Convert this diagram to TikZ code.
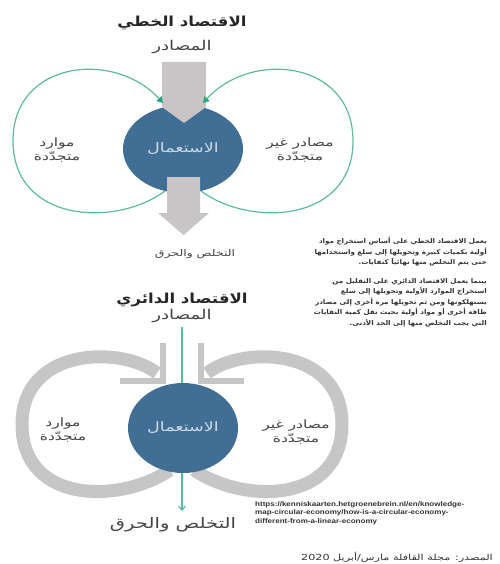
\documentclass[tikz,border=0pt]{standalone}
\usepackage{fontspec}
\setmainfont{DejaVu Sans}
\newfontfamily\arabicfont[Script=Arabic,FakeStretch=1.35]{DejaVu Sans}
\newfontfamily\arabictitle[Script=Arabic,FakeStretch=1.2]{DejaVu Sans Bold}
\newfontfamily\arabicnote[Script=Arabic,FakeStretch=1.1]{DejaVu Sans Bold}
\newfontfamily\urlfont[FakeStretch=1.2]{Liberation Sans Bold}
\TeXXeTstate=1
\usetikzlibrary{arrows.meta,shapes.geometric}

\definecolor{useblue}{RGB}{64,110,148}
\definecolor{flowgray}{RGB}{201,197,199}
\definecolor{loopgray}{RGB}{198,198,198}
\definecolor{loopgreen}{RGB}{92,186,160}
\definecolor{tipgreen}{RGB}{38,168,120}
\definecolor{labelgray}{RGB}{68,68,68}
\definecolor{inlabel}{RGB}{208,218,230}

\newcommand{\AR}[1]{\beginR #1\endR}
\newcommand{\fs}[1]{\fontsize{#1}{#1}\selectfont}

\tikzset{
  ar/.style={font=\arabicfont, text=labelgray, inner sep=0pt, align=center},
  lbl/.style={ar, font=\arabicfont\fontsize{11.5}{14}\selectfont},
  title/.style={ar, font=\arabictitle\fs{13.8}, text=black!85},
  usenode/.style={ellipse, fill=useblue, text=inlabel, inner sep=0pt,
    font=\arabicfont\fs{13}},
  greenloop/.style={draw=loopgreen, line width=1.2pt,
    -{Triangle[length=6pt,width=7pt,color=tipgreen]}},
  grayloop/.style={draw=loopgray, line width=13pt},
  graybarb/.style={draw=loopgray, line width=6pt, line join=miter},
  flow/.style={fill=flowgray},
  feed/.style={draw=loopgreen, line width=1.2pt, -{Straight Barb[length=4pt,width=7pt]}},
  para/.style={font=\arabicnote\fontsize{6.5}{10.6}\selectfont, text=black!80,
    align=right, inner sep=0pt},
}

\begin{document}
\begin{tikzpicture}[x=1pt,y=1pt]
\useasboundingbox (0,0) rectangle (499,-564);
\fill[white] (0,0) rectangle (499,-564);

% ---------- linear economy ----------
\node[title] (linTitle) at (182,-23) {\AR{الاقتصاد الخطي}};
\node[ar, font=\arabicfont\fs{13.5}] (srcA) at (182,-47) {\AR{المصادر}};

\node[usenode, minimum width=120pt, minimum height=88pt] (useA) at (183,-149) {\AR{الاستعمال}};

% raw material entering, waste leaving
\fill[flow] (162,-62) -- (206,-62) -- (206,-107) -- (184,-123) -- (162,-107) -- cycle;
\fill[flow] (167,-177) -- (200,-177) -- (200,-213) -- (209,-213) -- (183.5,-235)
  -- (158,-213) -- (167,-213) -- cycle;

\node[ar, font=\arabicfont\fs{9.2}] (dispA) at (195,-254) {\AR{التخلص والحرق}};

% resource loops
\coordinate (lInA) at (165,-191);
\coordinate (lOutA) at (163,-103);
\coordinate (rInA) at (201,-191);
\coordinate (rOutA) at (203,-103);
\draw[greenloop] (lInA) .. controls (115,-228) and (13,-222) .. (13,-141)
  .. controls (13,-60) and (115,-50) .. (lOutA);
\draw[greenloop] (rInA) .. controls (251,-228) and (353,-222) .. (353,-141)
  .. controls (353,-60) and (251,-50) .. (rOutA);

\node[lbl] (renA) at (57,-150) {\AR{موارد}\\\AR{متجدّدة}};
\node[lbl] (nrenA) at (300,-150) {\AR{مصادر غير}\\\AR{متجدّدة}};

% ---------- explanatory notes ----------
\node[para, anchor=north east] (noteA) at (487,-237) {%
  \AR{يعمل الاقتصاد الخطي على أساس استخراج مواد}\\
  \AR{أولية بكميات كبيرة وتحويلها إلى سلع واستخدامها}\\
  \AR{حتى يتم التخلص منها نهائياً كنفايات.}};
\node[para, anchor=north east] (noteB) at (487,-278) {%
  \AR{بينما يعمل الاقتصاد الدائري على التقليل من}\\
  \AR{استخراج الموارد الأولية وتحويلها إلى سلع}\\
  \AR{يستهلكونها ومن ثم تحويلها مرة أخرى إلى مصادر}\\
  \AR{طاقة أخرى أو مواد أولية بحيث تقل كمية النفايات}\\
  \AR{التي يجب التخلص منها إلى الحد الأدنى.}};

% ---------- circular economy ----------
\node[title] (circTitle) at (182,-300) {\AR{الاقتصاد الدائري}};
\node[ar, font=\arabicfont\fs{13.5}] (srcB) at (182,-316) {\AR{المصادر}};
\node[ar, font=\arabicfont\fs{14.5}] (dispB) at (173,-525) {\AR{التخلص والحرق}};

\coordinate (feedTop) at (182,-327);
\coordinate (feedEnd) at (182,-511);
\draw[feed] (feedTop) -- (feedEnd);

% recycling loops
\draw[grayloop] (170,-470) .. controls (120,-504) and (22,-504) .. (22,-424)
  .. controls (22,-348) and (120,-345) .. (157,-373);
\draw[graybarb] (163,-343) -- (163,-381) -- (120,-381);
\draw[grayloop] (194,-470) .. controls (244,-504) and (342,-504) .. (342,-424)
  .. controls (342,-348) and (244,-345) .. (207,-373);
\draw[graybarb] (201,-343) -- (201,-381) -- (244,-381);

\node[usenode, minimum width=110pt, minimum height=90pt] (useB) at (183,-428) {\AR{الاستعمال}};

\node[lbl] (renB) at (63,-430) {\AR{موارد}\\\AR{متجدّدة}};
\node[lbl] (nrenB) at (296,-432) {\AR{مصادر غير}\\\AR{متجدّدة}};

% ---------- reference and source ----------
\node[font=\urlfont\fontsize{6.7}{8.6}\selectfont, text=black!80, align=left,
  inner sep=0pt, anchor=north west] (refUrl) at (255,-501) {%
  https://kenniskaarten.hetgroenebrein.nl/en/knowledge-\\
  map-circular-economy/how-is-a-circular-economy-\\
  different-from-a-linear-economy};
\node[ar, font=\arabicfont\fs{8.3}, text=black!80, anchor=east] (srcNote) at (493,-557)
  {\AR{المصدر: مجلة القافلة مارس/أبريل \beginL 2020\endL}};
\end{tikzpicture}
\end{document}
